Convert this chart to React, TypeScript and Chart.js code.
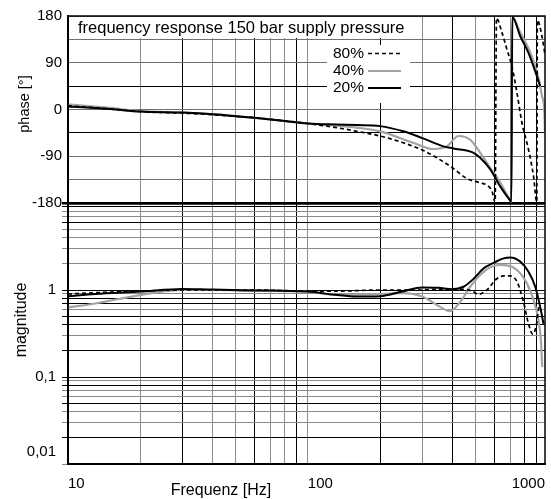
import React, { useEffect, useRef } from "react";
import { Chart, registerables } from "chart.js";

Chart.register(...registerables);

const FONT = "'Liberation Sans', Arial, Helvetica, sans-serif";

// ---------- data ----------
const seriesNames = ["80%", "40%", "20%"];
const titleText = "frequency response 150 bar supply pressure";
const xAxisTitle = "Frequenz [Hz]";
const phaseAxisTitle = "phase [°]";
const magAxisTitle = "magnitude";

// phase [deg]
const phaseFreq80 = [10, 15, 20, 30, 40, 60, 80, 100, 132, 160, 200, 250, 300, 345, 400, 461, 523, 560, 586, 604, 612, 645, 677, 710, 745, 781, 832, 873, 901, 906, 947, 975];
const phaseDeg80 = [7, 1, -4, -7, -10, -16, -22, -27, -35, -42, -51, -64, -78, -93, -112, -133, -141, -146, -157, -178, 176, 148, 115, 83, 32, -25, -77, -128, -178, 172, 141, 105];

const phaseFreq40 = [10, 15, 20, 30, 40, 60, 80, 100, 132, 160, 200, 275, 333, 380, 425, 475, 523, 595, 634, 700, 706, 712, 769, 846, 916, 947, 968, 975];
const phaseDeg40 = [10, 3, -3, -6, -9, -16, -22, -27, -31, -35, -42, -64, -76, -71, -51, -58, -83, -122, -140, -176, -178, 178, 148, 110, 61, 26, 0, -45];

const phaseFreq20 = [10, 15, 20, 30, 40, 60, 80, 100, 132, 160, 200, 250, 300, 368, 404, 489, 523, 576, 634, 700, 706, 712, 769, 832, 902, 931];
const phaseDeg20 = [6, 1, -4, -6, -9, -16, -22, -27, -29, -30, -32, -42, -55, -71, -75, -83, -93, -115, -148, -176, -178, 178, 141, 109, 64, 45];

// magnitude
const magFreq80 = [10, 13, 20, 30, 60, 100, 130, 200, 300, 356, 446, 489, 513, 558, 610, 655, 698, 745, 793, 832, 868, 902, 922];
const magVal80 = [0.9, 0.93, 0.97, 1.0, 1.0, 0.97, 0.97, 1.0, 1.0, 1.02, 1.02, 0.96, 0.89, 1.0, 1.33, 1.45, 1.45, 1.25, 0.73, 0.41, 0.31, 0.43, 0.7];

const magFreq40 = [10, 13, 20, 30, 40, 60, 100, 130, 200, 250, 300, 356, 391, 432, 475, 523, 576, 634, 677, 745, 820, 873, 916, 937, 950];
const magVal40 = [0.63, 0.7, 0.875, 1.0, 1.0, 0.98, 0.96, 0.88, 0.9, 0.92, 0.84, 0.64, 0.57, 0.73, 1.09, 1.49, 1.82, 1.94, 1.92, 1.7, 1.19, 0.77, 0.45, 0.27, 0.13];

const magFreq20 = [10, 13, 20, 30, 40, 60, 100, 130, 160, 200, 250, 300, 350, 400, 446, 489, 540, 595, 655, 698, 769, 832, 888, 931, 961];
const magVal20 = [0.85, 0.9, 0.96, 1.03, 1.01, 0.99, 0.96, 0.88, 0.84, 0.85, 0.97, 1.07, 1.06, 1.02, 1.09, 1.33, 1.77, 2.05, 2.31, 2.37, 2.12, 1.62, 1.09, 0.64, 0.41];

// axes
const xMin = 10;
const xMax = 975;
const xGridTicks = [20, 30, 40, 50, 60, 70, 80, 90, 100, 200, 300, 400, 500, 600, 700, 800, 900];
const xLabelValues = [10, 100, 1000];
const xLabelTexts = ["10", "100", "1000"];
const phaseTicks = [-180, -135, -90, -45, 0, 45, 90, 135, 180];
const phaseLabelTicks = [-180, -90, 0, 90, 180];
const magTicks = [
  0.01, 0.02, 0.03, 0.04, 0.05, 0.06, 0.07, 0.08, 0.09,
  0.1, 0.2, 0.3, 0.4, 0.5, 0.6, 0.7, 0.8, 0.9,
  1, 2, 3, 4, 5, 6, 7, 8, 9, 10,
];
const magLabelTicks = [0.01, 0.1, 1];
const magLabelTexts = ["0,01", "0,1", "1"];

// ---------- styling helpers ----------
const GRAY = "#8a8a8a";
const BLACK = "#000";
const xGrayGrid = [20, 40, 50, 70, 80, 100, 300, 500, 700];
const magBlackGrid = [0.02, 0.05, 0.08, 0.1, 0.2, 0.4, 0.5, 0.7, 0.8, 1, 6, 9, 10];

const toPts = (xs: number[], ys: number[]) => xs.map((x, i) => ({ x, y: ys[i] }));

const dashStyle = { borderColor: "#000", borderWidth: 1.7, borderDash: [4, 3] };
const grayStyle = { borderColor: "#a3a3a3", borderWidth: 2.2, borderDash: [] as number[] };
const blackStyle = { borderColor: "#000", borderWidth: 2, borderDash: [] as number[] };
const styles = [dashStyle, grayStyle, blackStyle];

const decorPlugin = {
  id: "decor",
  afterDatasetsDraw(chart: any) {
    const { ctx, chartArea: a, scales } = chart;
    const ph = scales.phase;
    ctx.save();
    // title box
    ctx.font = `16.5px ${FONT}`;
    const tw = ctx.measureText(titleText).width;
    const boxBottom = Math.round(ph.getPixelForValue(135)) - 0.5;
    ctx.fillStyle = "#fff";
    ctx.fillRect(a.left + 1, a.top + 1, tw + 20, boxBottom - a.top - 1.5);
    ctx.fillStyle = "#000";
    ctx.textAlign = "left";
    ctx.textBaseline = "middle";
    ctx.fillText(titleText, a.left + 10, (a.top + boxBottom) / 2 + 1.5);

    // legend box
    const lx0 = 327, lx1 = 410, ly0 = 45, ly1 = 103;
    ctx.fillStyle = "#fff";
    ctx.fillRect(lx0, ly0, lx1 - lx0, ly1 - ly0);
    const rows = [53, 70.5, 87.5];
    ctx.font = `15.5px ${FONT}`;
    ctx.textAlign = "right";
    seriesNames.forEach((name, i) => {
      const ds = chart.data.datasets.find((d: any) => d.label === name && d.yAxisID === "phase");
      ctx.fillStyle = "#000";
      ctx.fillText(name, 364, rows[i] + 0.5);
      ctx.beginPath();
      ctx.setLineDash(ds.borderDash || []);
      ctx.strokeStyle = ds.borderColor;
      ctx.lineWidth = ds.borderWidth;
      ctx.moveTo(368, rows[i] + 0.5);
      ctx.lineTo(401, rows[i] + 0.5);
      ctx.stroke();
    });
    ctx.setLineDash([]);
    ctx.restore();
  },
  afterDraw(chart: any) {
    const { ctx, chartArea: a, scales } = chart;
    const xs = scales.x;
    ctx.save();
    // frame
    ctx.strokeStyle = "#000";
    ctx.lineWidth = 1.5;
    ctx.strokeRect(a.left, a.top, a.right - a.left, a.bottom - a.top);
    // x labels
    ctx.fillStyle = "#000";
    ctx.font = `15px ${FONT}`;
    ctx.textBaseline = "alphabetic";
    xLabelValues.forEach((v, i) => {
      const px = xs.getPixelForValue(v);
      if (i === xLabelValues.length - 1) {
        ctx.textAlign = "right";
        ctx.fillText(xLabelTexts[i], Math.min(px, a.right), 488);
      } else {
        ctx.textAlign = "left";
        ctx.fillText(xLabelTexts[i], px, 488);
      }
    });
    // x title
    ctx.font = `16px ${FONT}`;
    ctx.textAlign = "center";
    ctx.fillText(xAxisTitle, 221, 495);
    // y titles
    ctx.textBaseline = "middle";
    ctx.save();
    ctx.translate(24.5, 104);
    ctx.rotate(-Math.PI / 2);
    ctx.font = `14.5px ${FONT}`;
    ctx.fillText(phaseAxisTitle, 0, 0);
    ctx.restore();
    ctx.save();
    ctx.translate(21.5, 320);
    ctx.rotate(-Math.PI / 2);
    ctx.font = `16px ${FONT}`;
    ctx.fillText(magAxisTitle, 0, 0);
    ctx.restore();
    ctx.restore();
  },
};

export default function App() {
  const ref = useRef<HTMLCanvasElement>(null);

  useEffect(() => {
    const canvas = ref.current;
    if (!canvas) return;
    Chart.defaults.font.family = FONT;
    const phaseSets = [
      [phaseFreq80, phaseDeg80],
      [phaseFreq40, phaseDeg40],
      [phaseFreq20, phaseDeg20],
    ];
    const magSets = [
      [magFreq80, magVal80],
      [magFreq40, magVal40],
      [magFreq20, magVal20],
    ];
    const datasets: any[] = [];
    const drawOrder = [1, 2, 0]; // gray on top
    seriesNames.forEach((name, i) => {
      datasets.push({
        label: name,
        data: toPts(phaseSets[i][0], phaseSets[i][1]),
        xAxisID: "x",
        yAxisID: "phase",
        order: drawOrder[i],
        ...styles[i],
      });
    });
    seriesNames.forEach((name, i) => {
      datasets.push({
        label: name,
        data: toPts(magSets[i][0], magSets[i][1]),
        xAxisID: "x",
        yAxisID: "mag",
        order: drawOrder[i],
        ...styles[i],
      });
    });

    const chart = new Chart(canvas, {
      type: "line",
      data: { datasets },
      plugins: [decorPlugin],
      options: {
        responsive: false,
        animation: false,
        devicePixelRatio: 1,
        layout: { padding: { top: 16, right: 6, left: 0, bottom: 0 } },
        plugins: {
          legend: { display: false },
          title: { display: false },
          tooltip: { enabled: false },
        },
        elements: {
          point: { radius: 0, hoverRadius: 0 },
          line: { cubicInterpolationMode: "monotone", fill: false, borderJoinStyle: "round" },
        },
        scales: {
          x: {
            type: "logarithmic",
            position: "bottom",
            min: xMin,
            max: xMax,
            afterBuildTicks: (s: any) => {
              s.ticks = xGridTicks.map((v) => ({ value: v }));
            },
            afterFit: (s: any) => {
              s.height = 35;
            },
            ticks: { display: false },
            grid: {
              drawTicks: false,
              color: (c: any) => (xGrayGrid.includes(c.tick?.value) ? GRAY : BLACK),
              lineWidth: 1,
            },
            border: { display: true, color: "#000", width: 2 },
          },
          phase: {
            type: "linear",
            position: "left",
            stack: "panels",
            stackWeight: 187,
            weight: 2,
            min: -180,
            max: 180,
            afterBuildTicks: (s: any) => {
              s.ticks = phaseTicks.map((v) => ({ value: v }));
            },
            afterFit: (s: any) => {
              s.width = 68;
            },
            ticks: {
              autoSkip: false,
              padding: 6,
              color: "#000",
              font: { family: FONT, size: 15 },
              callback: (v: any) => (phaseLabelTicks.includes(v) ? String(v) : ""),
            },
            grid: {
              drawTicks: false,
              color: (c: any) => {
                const v = c.tick?.value;
                return v === -180 || v === 45 || v === -45 ? BLACK : "#707070";
              },
              lineWidth: (c: any) => (c.tick?.value === -180 ? 2.5 : 1),
            },
            border: { display: true, color: "#000", width: 2 },
          },
          mag: {
            type: "logarithmic",
            position: "left",
            stack: "panels",
            stackWeight: 261,
            weight: 1,
            min: 0.01,
            max: 10,
            afterBuildTicks: (s: any) => {
              s.ticks = magTicks.map((v) => ({ value: v }));
            },
            afterFit: (s: any) => {
              s.width = 68;
            },
            ticks: {
              autoSkip: false,
              padding: 6,
              color: "#000",
              font: (c: any) =>
                c.tick?.value === magLabelTicks[0]
                  ? { family: FONT, size: 15, lineHeight: "24px" }
                  : { family: FONT, size: 15 },
              callback: (v: any) => {
                const idx = magLabelTicks.indexOf(v);
                if (idx < 0) return "";
                return idx === 0 ? [magLabelTexts[idx], ""] : magLabelTexts[idx];
              },
            },
            grid: {
              drawTicks: true,
              tickLength: 6,
              color: (c: any) => (magBlackGrid.includes(c.tick?.value) ? BLACK : GRAY),
              lineWidth: (c: any) => (c.tick?.value === 10 ? 2.5 : 1),
            },
            border: { display: true, color: "#000", width: 2 },
          },
        },
      } as any,
    });
    return () => chart.destroy();
  }, []);

  return (
    <div style={{ position: "absolute", left: 0, top: 0, width: 551, height: 499, background: "#fff" }}>
      <canvas ref={ref} width={551} height={499} style={{ display: "block", width: 551, height: 499 }} />
    </div>
  );
}
